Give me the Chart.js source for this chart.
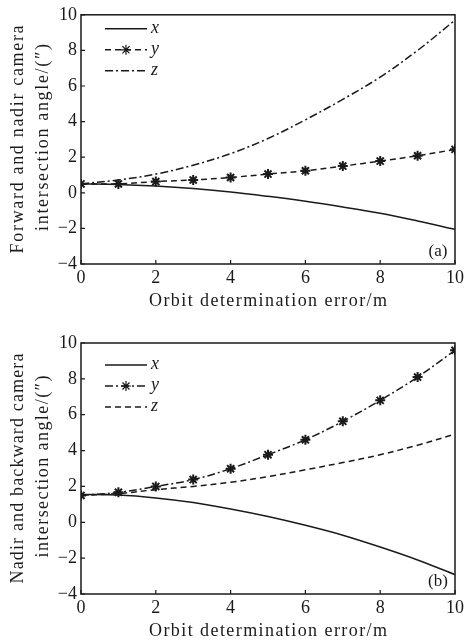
<!DOCTYPE html>
<html>
<head>
<meta charset="utf-8">
<script src="https://cdn.jsdelivr.net/npm/chart.js@4.4.1/dist/chart.umd.min.js"></script>
<style>
  html, body { margin: 0; padding: 0; background: #fff; }
  canvas { display: block; }
</style>
</head>
<body>
<canvas id="chartA" width="467" height="320"></canvas>
<canvas id="chartB" width="467" height="322"></canvas>
<script>
const errors = [0, 1, 2, 3, 4, 5, 6, 7, 8, 9, 10];

// (a) forward / nadir
const aX = [0.50, 0.47, 0.38, 0.24, 0.05, -0.20, -0.48, -0.80, -1.15, -1.58, -2.05];
const aY = [0.50, 0.50, 0.63, 0.72, 0.86, 1.05, 1.24, 1.50, 1.78, 2.08, 2.44];
const aZ = [0.50, 0.72, 1.05, 1.55, 2.20, 3.05, 4.10, 5.25, 6.50, 8.00, 9.70];

// (b) nadir / backward
const bX = [1.55, 1.52, 1.36, 1.10, 0.74, 0.32, -0.17, -0.72, -1.38, -2.10, -2.92];
const bY = [1.50, 1.67, 2.00, 2.38, 2.99, 3.77, 4.60, 5.63, 6.80, 8.10, 9.59];
const bZ = [1.50, 1.60, 1.82, 2.00, 2.23, 2.55, 2.93, 3.33, 3.77, 4.30, 4.92];

const seriesNames = ['x', 'y', 'z'];
const yTicks = { min: -4, max: 10, step: 2 };
const xTicks = { min: 0, max: 10, step: 2 };

const ink = '#1a1a1a';
const serif = "'Liberation Serif', 'Times New Roman', serif";
const solid = [];
const dashed = [6, 4];
const dashDot = [8, 3, 2, 3];

function toPoints(values) {
    return errors.map((e, i) => ({ x: e, y: values[i] }));
}

function makeDataset(label, values, dash, withStars) {
    return {
        label,
        data: toPoints(values),
        borderColor: ink,
        backgroundColor: ink,
        borderWidth: 1.5,
        borderDash: dash,
        tension: 0.35,
        pointStyle: withStars ? 'star' : false,
        pointRadius: withStars ? 5 : 0,
        pointBorderWidth: 2,
        pointBorderColor: ink,
    };
}

function drawFitted(ctx, text, x, y, targetWidth, rotate) {
    ctx.save();
    ctx.translate(x, y);
    if (rotate) ctx.rotate(-Math.PI / 2);
    ctx.letterSpacing = '0px';
    const w = ctx.measureText(text).width;
    const spacing = Math.max(0, (targetWidth - w) / Math.max(1, text.length - 1));
    ctx.letterSpacing = spacing + 'px';
    ctx.textAlign = 'center';
    ctx.textBaseline = 'middle';
    ctx.fillText(text, spacing / 2, 0);
    ctx.restore();
}

const framePlugin = {
    id: 'frame',
    afterDraw(chart, args, opts) {
        const { ctx, chartArea: a, scales } = chart;
        ctx.save();
        ctx.strokeStyle = ink;
        ctx.lineWidth = 1.5;
        ctx.strokeRect(a.left, a.top, a.right - a.left, a.bottom - a.top);

        // inner tick marks
        ctx.lineWidth = 1.2;
        ctx.beginPath();
        scales.x.ticks.forEach(t => {
            const px = scales.x.getPixelForValue(t.value);
            ctx.moveTo(px, a.bottom);
            ctx.lineTo(px, a.bottom - 4);
        });
        scales.y.ticks.forEach(t => {
            const py = scales.y.getPixelForValue(t.value);
            ctx.moveTo(a.left, py);
            ctx.lineTo(a.left + 4, py);
        });
        ctx.stroke();

        // legend inside the plot
        ctx.font = 'italic 18px ' + serif;
        ctx.fillStyle = ink;
        ctx.textBaseline = 'middle';
        chart.data.datasets.forEach((ds, i) => {
            const y = a.top + opts.legendTop + i * 21;
            const x0 = a.left + 24, x1 = a.left + 66;
            ctx.save();
            ctx.lineWidth = ds.borderWidth;
            ctx.setLineDash(ds.borderDash);
            ctx.beginPath();
            ctx.moveTo(x0, y);
            ctx.lineTo(x1, y);
            ctx.stroke();
            ctx.restore();
            if (ds.pointStyle) {
                Chart.helpers.drawPoint(ctx, { pointStyle: ds.pointStyle, radius: ds.pointRadius, borderWidth: ds.pointBorderWidth }, (x0 + x1) / 2, y);
                ctx.strokeStyle = ink;
            }
            ctx.fillText(ds.label, x1 + 4, y - 1);
        });

        // panel tag
        ctx.font = '17px ' + serif;
        ctx.textAlign = 'center';
        ctx.fillText(opts.tag, a.right - 17, a.bottom - 12);

        // axis titles
        ctx.font = '18px ' + serif;
        drawFitted(ctx, 'Orbit determination error/m', (a.left + a.right) / 2, a.bottom + 37.5, 238, false);
        const midY = (a.top + a.bottom) / 2;
        drawFitted(ctx, opts.yLines[0], 18, midY, opts.yWidths[0], true);
        drawFitted(ctx, opts.yLines[1], 43, midY - 2, opts.yWidths[1], true);
        ctx.restore();
    }
};

function buildChart(canvasId, values, dashes, starIndex, cfg) {
    const datasets = values.map((v, i) => makeDataset(seriesNames[i], v, dashes[i], i === starIndex));
    new Chart(document.getElementById(canvasId), {
        type: 'line',
        data: { datasets },
        options: {
            responsive: false,
            animation: false,
            layout: { padding: { top: cfg.top, right: 8, left: 0, bottom: 0 } },
            plugins: {
                legend: { display: false },
                tooltip: { enabled: false },
                frame: { legendTop: cfg.legendTop, tag: cfg.tag, yLines: cfg.yLines, yWidths: cfg.yWidths },
            },
            scales: {
                x: {
                    type: 'linear',
                    min: xTicks.min,
                    max: xTicks.max,
                    grid: { display: false, drawTicks: false },
                    border: { display: false },
                    ticks: { stepSize: xTicks.step, color: ink, padding: 3, maxRotation: 0, font: { family: serif, size: 18 } },
                    afterFit: scale => { scale.height = cfg.xHeight; },
                },
                y: {
                    min: yTicks.min,
                    max: yTicks.max,
                    grid: { display: false, drawTicks: false },
                    border: { display: false },
                    ticks: {
                        stepSize: yTicks.step,
                        color: ink,
                        padding: 4,
                        font: { family: serif, size: 18 },
                        callback: v => String(v).replace('-', '\u2212'),
                    },
                    afterFit: scale => { scale.width = 81; },
                },
            },
        },
        plugins: [framePlugin],
    });
}

buildChart('chartA', [aX, aY, aZ], [solid, dashed, dashDot], 1, {
    top: 13, xHeight: 56, legendTop: 14, tag: '(a)',
    yLines: ['Forward and nadir camera', 'intersection angle/(\u2033)'],
    yWidths: [228, 187],
});

buildChart('chartB', [bX, bY, bZ], [solid, dashDot, dashed], 1, {
    top: 23, xHeight: 48, legendTop: 22, tag: '(b)',
    yLines: ['Nadir and backward camera', 'intersection angle/(\u2033)'],
    yWidths: [230, 182],
});
</script>
</body>
</html>
